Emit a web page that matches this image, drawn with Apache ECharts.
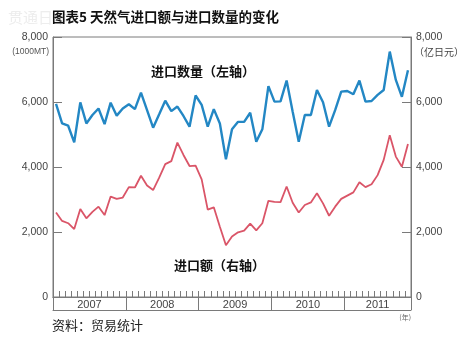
<!DOCTYPE html>
<html><head><meta charset="utf-8">
<script src="https://cdn.jsdelivr.net/npm/echarts@6/dist/echarts.min.js"></script>
<style>html,body{margin:0;padding:0;background:#fff}#c{width:469px;height:343px}</style>
</head><body><div id="c"></div>
<script>
const years = ['2007','2008','2009','2010','2011'];
const monthsPerYear = [12,12,12,12,11];
const yTicks = [0,2000,4000,6000,8000];
// 进口数量 (1000MT), left axis
const importVolume = [
  5940,5340,5270,4760,5990,5340,5600,5800,5320,5980,5580,5800,
  5930,5780,6290,5750,5210,5620,6040,5720,5860,5570,5240,6200,
  5910,5240,5780,5340,4240,5160,5390,5390,5670,4780,5160,6490,
  6010,6020,6660,5700,4780,5600,5600,6370,5990,5240,5750,6320,
  6340,6240,6660,6010,6030,6220,6370,7550,6680,6160,6980
];
// 进口额 (亿日元), right axis
const importValue = [
  2600,2340,2270,2090,2710,2420,2620,2780,2520,3090,3020,3060,
  3380,3370,3730,3430,3290,3670,4090,4180,4750,4370,4030,4040,
  3620,2690,2760,2160,1590,1860,1990,2040,2260,2050,2270,2960,
  2930,2920,3400,2900,2600,2830,2910,3190,2880,2500,2780,3020,
  3120,3220,3530,3380,3470,3750,4220,4980,4320,4010,4710
];

const months = [];
const yearStart = [];
const yearLabelAt = {};
years.forEach((y, i) => {
  const s = months.length;
  yearStart.push(s);
  const n = monthsPerYear[i];
  if (n % 2 === 0) yearLabelAt[s + n / 2] = '{a|' + y + '}';
  else yearLabelAt[s + (n - 1) / 2] = '{b|' + y + '}';
  for (let m = 1; m <= n; m++) months.push(y + '-' + String(m).padStart(2, '0'));
});

const axisColor = '#7a7a7a';
const chart = echarts.init(document.getElementById('c'), null, {renderer: 'canvas'});
const fnt = '"Noto Sans CJK SC","Noto Sans",sans-serif';

function txt(text, x, y, font, fill, align, valign, z) {
  return {type: 'text', x: x, y: y, z: z || 10, silent: true,
    style: {text: text, font: font, fill: fill, align: align, textAlign: align,
      verticalAlign: valign, textVerticalAlign: valign}};
}

chart.setOption({
  animation: false,
  backgroundColor: '#fff',
  grid: {left: 53, right: 58, top: 37, bottom: 46, show: true, borderColor: axisColor, borderWidth: 1, containLabel: false},
  xAxis: [
    {type: 'category', data: months, boundaryGap: true,
      axisLine: {show: true, lineStyle: {color: axisColor, width: 1}},
      axisTick: {show: true, inside: true, length: 6, interval: 0, lineStyle: {color: axisColor}},
      axisLabel: {show: false}, splitLine: {show: false}},
    {type: 'category', data: months, boundaryGap: true, position: 'bottom',
      axisLine: {show: true, lineStyle: {color: axisColor, width: 1}},
      axisTick: {show: true, inside: false, length: 13, interval: (i) => yearStart.indexOf(i) >= 0, lineStyle: {color: axisColor}},
      axisLabel: {show: true, interval: 0, margin: 2, color: '#444', fontSize: 11, fontFamily: 'Liberation Sans, Arial, sans-serif',
        formatter: (v, i) => yearLabelAt[i] || '',
        rich: {a: {padding: [0, 6, 0, 0], fontSize: 11, color: '#444', fontFamily: 'Liberation Sans, Arial, sans-serif'},
               b: {fontSize: 11, color: '#444', fontFamily: 'Liberation Sans, Arial, sans-serif'}}},
      splitLine: {show: false}},
    {type: 'category', data: months, boundaryGap: true, position: 'bottom', offset: 13,
      axisLine: {show: true, lineStyle: {color: axisColor, width: 1}},
      axisTick: {show: false}, axisLabel: {show: false}, splitLine: {show: false}}
  ],
  yAxis: [
    {type: 'value', min: yTicks[0], max: yTicks[yTicks.length - 1], interval: 2000, position: 'left',
      axisLine: {show: true, lineStyle: {color: axisColor}},
      axisTick: {show: true, inside: true, length: 9, lineStyle: {color: axisColor}},
      axisLabel: {margin: 5, color: '#444', fontSize: 10.5, fontFamily: 'Liberation Sans, Arial, sans-serif',
        formatter: v => v.toLocaleString('en-US')},
      splitLine: {show: false}},
    {type: 'value', min: yTicks[0], max: yTicks[yTicks.length - 1], interval: 2000, position: 'right',
      axisLine: {show: true, lineStyle: {color: axisColor}},
      axisTick: {show: true, inside: true, length: 9, lineStyle: {color: axisColor}},
      axisLabel: {margin: 5, color: '#444', fontSize: 10.5, fontFamily: 'Liberation Sans, Arial, sans-serif',
        formatter: v => v.toLocaleString('en-US')},
      splitLine: {show: false}}
  ],
  series: [
    {name: '进口数量', type: 'line', xAxisIndex: 0, yAxisIndex: 0, data: importVolume,
      showSymbol: false, symbol: 'none', lineStyle: {color: '#2387c4', width: 2.4}, z: 3},
    {name: '进口额', type: 'line', xAxisIndex: 0, yAxisIndex: 1, data: importValue,
      showSymbol: false, symbol: 'none', lineStyle: {color: '#da5568', width: 1.8}, z: 2}
  ],
  graphic: [
    txt('贯通日本', 8, 17, '15px ' + fnt, '#ededed', 'left', 'middle', 1),
    txt('图表5 天然气进口额与进口数量的变化', 52, 17, 'bold 13.5px ' + fnt, '#111', 'left', 'middle', 5),
    txt('(1000MT)', 49, 52, '8.5px "Liberation Sans", Arial, sans-serif', '#555', 'right', 'middle'),
    txt('（亿日元）', 414, 52, '10px ' + fnt, '#444', 'left', 'middle'),
    txt('进口数量（左轴）', 151, 71, 'bold 13px ' + fnt, '#111', 'left', 'middle'),
    txt('进口额（右轴）', 174, 265, 'bold 13px ' + fnt, '#111', 'left', 'middle'),
    txt('资料：贸易统计', 52, 325, '13px ' + fnt, '#222', 'left', 'middle'),
    txt('(年)', 411, 317, '7px ' + fnt, '#666', 'right', 'middle')
  ]
});
</script>
</body></html>
